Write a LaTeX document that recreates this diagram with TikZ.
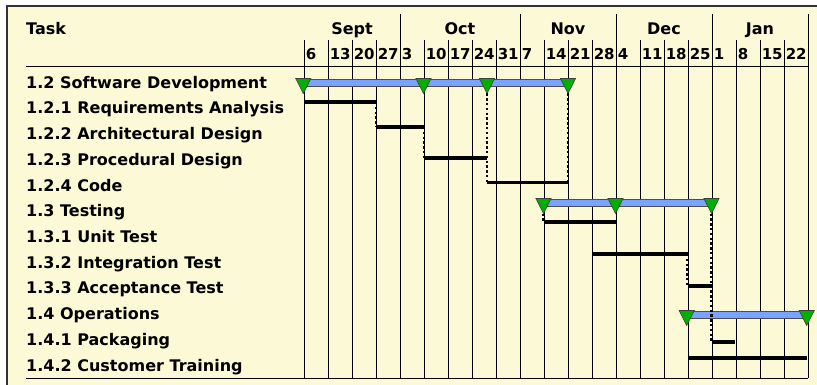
\documentclass[tikz,border=0pt]{standalone}
\usepackage{fontspec}
\setmainfont{DejaVu Sans}
\definecolor{chartbg}{RGB}{252,249,214}
\definecolor{sumblue}{RGB}{122,162,255}
\definecolor{milegreen}{RGB}{0,176,0}
\tikzset{
	grid line/.style={line width=0.8pt},
	task bar/.style={line width=3.4pt},
	link/.style={line width=2.8pt, dash pattern=on 2.4pt off 2.4pt},
	sum bar/.style={fill=sumblue, draw=black!70, line width=0.5pt},
	mile/.pic={
		\draw [fill=milegreen, draw=black!75, line width=0.6pt] (-7.6,0) -- (7.6,0) -- (0,15) -- cycle;
		\coordinate (-tip) at (0,15);
	}
}
\begin{document}
\begin{tikzpicture}[x=1pt, y=-1pt, font=\bfseries\fontsize{16}{19}\selectfont]
			\useasboundingbox (0,0) rectangle (817,385);
			\fill [white] (0,0) rectangle (817,385);
			\fill [chartbg] (7,6) rectangle (817,385);
			\draw [line width=1.5pt, black!80] (7,385) -- (7,6) -- (817,6);
			% weeks and months
			\foreach \i in {0,...,21}
				\draw [grid line] (304+24*\i,40) -- (304+24*\i,378);
			\foreach \x in {400,520,616,712,808}
				\draw [grid line] (\x,14) -- (\x,40);
			\draw [grid line] (26,66) -- (808,66);
			\draw [grid line] (26,378) -- (808,378);
			\node [anchor=base west, inner sep=0] (task) at (26,35) {Task};
			\foreach \m/\x in {Sept/352,Oct/460,Nov/568,Dec/664,Jan/760}
				\node [anchor=base, inner sep=0] (mon\m) at (\x,35) {\m};
			\foreach \d [count=\i from 0] in {6,13,20,27,3,10,17,24,31,7,14,21,28,4,11,18,25,1,8,15,22}
				\node [anchor=base west, inner sep=0, font=\bfseries\fontsize{15}{18}\selectfont] (wk\i) at (305.6+24*\i,60) {\d};
			\foreach \t [count=\i from 0] in {1.2 Software Development, 1.2.1 Requirements Analysis, 1.2.2 Architectural Design, 1.2.3 Procedural Design, 1.2.4 Code, 1.3 Testing, 1.3.1 Unit Test, 1.3.2 Integration Test, 1.3.3 Acceptance Test, 1.4 Operations, 1.4.1 Packaging, 1.4.2 Customer Training}
				\node [anchor=base west, inner sep=0] (row\i) at (26,88.3+25.7*\i) {\t};
			% summary bars
			\draw [sum bar] (303.3,79) rectangle (568,86.5);
			\draw [sum bar] (543.5,199) rectangle (711.5,206.5);
			\draw [sum bar] (686.7,311) rectangle (806.7,318.5);
			% task bars
			\draw [task bar] (304,102) coordinate (ra s) -- (376,102) coordinate (ra e);
			\draw [task bar] (376,127) coordinate (ad s) -- (424,127) coordinate (ad e);
			\draw [task bar] (424,158) coordinate (pd s) -- (487,158) coordinate (pd e);
			\draw [task bar] (487,182.5) coordinate (cd s) -- (568,182.5) coordinate (cd e);
			\draw [task bar] (543.5,222) coordinate (ut s) -- (615.5,222) coordinate (ut e);
			\draw [task bar] (592,254) coordinate (it s) -- (687.5,254) coordinate (it e);
			\draw [task bar] (687.5,286) coordinate (at s) -- (711.5,286) coordinate (at e);
			\draw [task bar] (711.5,342) coordinate (pk s) -- (735,342) coordinate (pk e);
			\draw [task bar] (687.5,358) coordinate (ct s) -- (806.7,358) coordinate (ct e);
			% milestones
			\pic (sd1) at (303.3,78.5) {mile};
			\pic (sd2) at (423.5,78.5) {mile};
			\pic (sd3) at (487,78.5) {mile};
			\pic (sd4) at (568,78.5) {mile};
			\pic (ts1) at (543.5,198.5) {mile};
			\pic (ts2) at (615.5,198.5) {mile};
			\pic (ts3) at (711.5,198.5) {mile};
			\pic (op1) at (686.7,310.5) {mile};
			\pic (op2) at (806.7,310.5) {mile};
			% dependencies
			\draw [link] (ra e) -- (ad s);
			\draw [link] (ad e) -- (pd s);
			\draw [link] (sd3-tip) -- (cd s);
			\draw [link] (sd4-tip) -- (cd e);
			\draw [link] (ts1-tip) -- (ut s);
			\draw [link] (it e) -- (at s);
			\draw [link] (ts3-tip) -- (pk s);
		\end{tikzpicture}
\end{document}
